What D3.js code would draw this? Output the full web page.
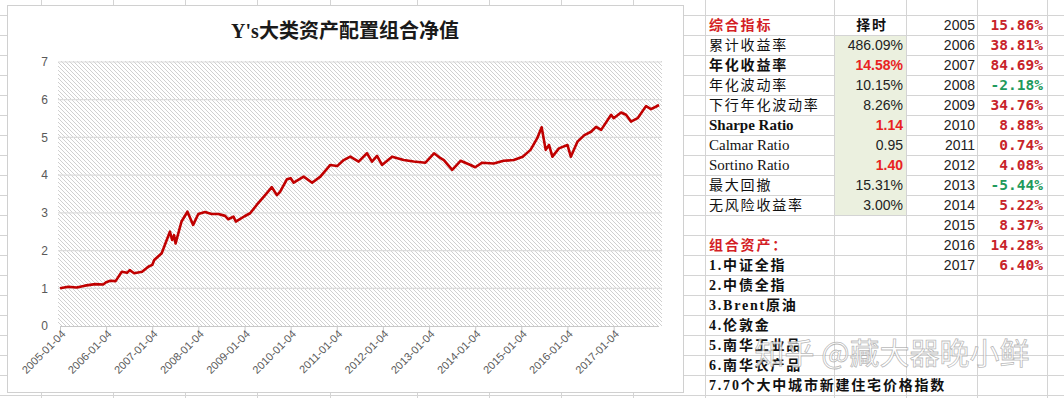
<!DOCTYPE html>
<html>
<head>
<meta charset="utf-8">
<script src="https://cdn.jsdelivr.net/npm/d3@7"></script>
<style>
  body { margin: 0; background: #fff; }
  svg { display: block; }
</style>
</head>
<body>
<div id="chart"></div>
<script>
// Net value series
var navDates = ["2005-01-04","2005-03-10","2005-05-16","2005-07-20","2005-10-10","2005-12-12","2006-01-04","2006-02-06","2006-03-20","2006-05-08","2006-06-19","2006-07-10","2006-08-14","2006-10-16","2006-12-04","2007-01-04","2007-01-20","2007-03-20","2007-04-14","2007-05-24","2007-06-11","2007-06-26","2007-07-08","2007-08-24","2007-10-10","2007-11-24","2008-01-04","2008-02-26","2008-04-18","2008-06-11","2008-08-03","2008-08-28","2008-10-08","2008-10-27","2008-12-01","2009-01-04","2009-02-17","2009-04-10","2009-06-16","2009-08-08","2009-09-17","2009-10-13","2009-12-05","2010-01-04","2010-01-28","2010-04-17","2010-06-23","2010-08-27","2010-11-14","2011-01-07","2011-02-28","2011-04-21","2011-06-26","2011-08-31","2011-10-10","2011-11-19","2011-12-28","2012-03-17","2012-06-17","2012-09-04","2012-12-06","2013-02-12","2013-04-05","2013-05-01","2013-07-06","2013-09-10","2013-11-28","2014-01-04","2014-02-28","2014-05-30","2014-08-17","2014-11-05","2015-01-15","2015-03-18","2015-05-10","2015-06-14","2015-07-16","2015-08-11","2015-09-07","2015-10-29","2016-01-04","2016-01-31","2016-03-24","2016-05-17","2016-07-09","2016-08-18","2016-09-27","2016-12-15","2017-01-04","2017-03-04","2017-04-12","2017-05-21","2017-07-13","2017-09-17","2017-10-27","2017-12-07","2017-12-29"];
var navValues = [1.00,1.04,1.02,1.07,1.11,1.10,1.16,1.20,1.19,1.44,1.41,1.48,1.40,1.44,1.57,1.62,1.75,1.93,2.15,2.50,2.28,2.41,2.19,2.77,3.03,2.68,2.97,3.02,2.97,2.97,2.92,2.83,2.90,2.77,2.84,2.91,2.99,3.21,3.47,3.68,3.47,3.56,3.89,3.92,3.80,3.96,3.80,3.96,4.27,4.24,4.40,4.49,4.36,4.58,4.36,4.51,4.27,4.49,4.40,4.36,4.33,4.58,4.45,4.40,4.14,4.38,4.27,4.21,4.33,4.31,4.38,4.40,4.49,4.67,4.98,5.27,4.67,4.80,4.49,4.71,4.80,4.49,4.89,5.06,5.15,5.28,5.20,5.60,5.51,5.66,5.60,5.42,5.51,5.83,5.75,5.82,5.86];

var xTickLabels = ["2005-01-04","2006-01-04","2007-01-04","2008-01-04","2009-01-04","2010-01-04","2011-01-04","2012-01-04","2013-01-04","2014-01-04","2015-01-04","2016-01-04","2017-01-04"];
var yTicks = [0, 1, 2, 3, 4, 5, 6, 7];

// Table on the right
var indicatorNames = ["累计收益率","年化收益率","年化波动率","下行年化波动率","Sharpe Ratio","Calmar Ratio","Sortino Ratio","最大回撤","无风险收益率"];
var indicatorValues = ["486.09%","14.58%","10.15%","8.26%","1.14","0.95","1.40","15.31%","3.00%"];
var nameBold = [false, true, false, false, true, false, false, false, false];
var valueBold = [false, true, false, false, true, false, true, false, false];
var years = [2005,2006,2007,2008,2009,2010,2011,2012,2013,2014,2015,2016,2017];
var yearReturns = [15.86,38.81,84.69,-2.18,34.76,8.88,0.74,4.08,-5.44,5.22,8.37,14.28,6.40];
var assets = ["1.中证全指","2.中债全指","3.Brent原油","4.伦敦金","5.南华工业品","6.南华农产品","7.70个大中城市新建住宅价格指数"];

var width = 1064, height = 398;
var cjk = "'Noto Sans CJK SC', sans-serif";
var serif = "'Liberation Serif', 'Noto Sans CJK SC', serif";
var sans = "'Liberation Sans', Arial, sans-serif";
var mono = "'DejaVu Sans Mono', monospace";

var svg = d3.select("#chart").append("svg")
    .attr("width", width)
    .attr("height", height);

var defs = svg.append("defs");
var pat = defs.append("pattern")
    .attr("id", "hatch")
    .attr("patternUnits", "userSpaceOnUse")
    .attr("width", 4).attr("height", 4);
pat.append("rect").attr("width", 4).attr("height", 4).attr("fill", "#fff");
pat.append("path")
    .attr("d", "M-1,-1L5,5M-1,3L1,5M3,-1L5,1")
    .attr("stroke", "#d0d0d0")
    .attr("stroke-width", 1);

// Spreadsheet grid
var colLines = [41.5, 113.5, 185.5, 257.5, 330.5, 417.5, 489.5, 561.5, 633.5, 705.5, 834.5, 906.5, 977.5, 1047.5];
var rowLines = d3.range(20).map(function (k) { return 15.5 + 20 * k; });
var grid = svg.append("g");
grid.selectAll(".cl").data(colLines).enter().append("line")
    .attr("x1", d => d).attr("x2", d => d)
    .attr("y1", 0).attr("y2", height)
    .attr("stroke", "#d4d4d4");
grid.selectAll(".rl").data(rowLines).enter().append("line")
    .attr("x1", 0).attr("x2", width)
    .attr("y1", d => d).attr("y2", d => d)
    .attr("stroke", "#d4d4d4");

// green fill for the indicator values
svg.append("rect")
    .attr("x", 835).attr("y", 36)
    .attr("width", 71).attr("height", 179)
    .attr("fill", "#ebf0df");

// Chart box
svg.append("rect")
    .attr("x", 7.5).attr("y", 5.5)
    .attr("width", 676).attr("height", 387)
    .attr("fill", "#fff")
    .attr("stroke", "#d0d0d0");

svg.append("text")
    .attr("x", 345).attr("y", 31)
    .attr("dy", "0.35em")
    .attr("text-anchor", "middle")
    .attr("font-family", serif)
    .attr("font-weight", "bold")
    .attr("font-size", "20px")
    .attr("fill", "#1a1a1a")
    .text("Y's大类资产配置组合净值");

var parseDate = d3.timeParse("%Y-%m-%d");
var data = navDates.map(function (d, i) {
    return { date: parseDate(d), value: navValues[i] };
});

var xScale = d3.scaleTime()
    .domain([parseDate("2005-01-04"), parseDate("2017-12-29")])
    .range([60, 659]);
var yScale = d3.scaleLinear()
    .domain([0, 7])
    .range([326, 62]);

// hatched plot area
svg.append("rect")
    .attr("x", 58).attr("y", 61)
    .attr("width", 604).attr("height", 265)
    .attr("fill", "url(#hatch)");

// horizontal gridlines
svg.append("g").selectAll("line")
    .data(yTicks.slice(1))
    .enter().append("line")
    .attr("x1", 58).attr("x2", 662)
    .attr("y1", d => yScale(d)).attr("y2", d => yScale(d))
    .attr("stroke", "#dcdcdc")
    .attr("stroke-width", 1.2);

var leftAxis = d3.axisLeft(yScale).tickValues(yTicks).tickFormat(d3.format("d")).tickSize(0).tickPadding(10);
var yAxisG = svg.append("g")
    .attr("transform", "translate(58,0)")
    .call(leftAxis);
yAxisG.select(".domain").remove();
yAxisG.selectAll("text")
    .attr("font-family", sans)
    .attr("font-size", "12px")
    .attr("fill", "#595959");

var bottomAxis = d3.axisBottom(xScale)
    .tickValues(xTickLabels.map(parseDate))
    .tickFormat(d3.timeFormat("%Y-%m-%d"))
    .tickSizeInner(5)
    .tickSizeOuter(0);
var xAxisG = svg.append("g")
    .attr("transform", "translate(0,326)")
    .call(bottomAxis);
xAxisG.select(".domain").attr("stroke", "#c8c8c8").attr("d", "M60,0.5H659");
xAxisG.selectAll(".tick line").attr("stroke", "#c8c8c8");
xAxisG.selectAll("text")
    .attr("font-family", sans)
    .attr("font-size", "11px")
    .attr("fill", "#595959")
    .attr("text-anchor", "end")
    .attr("dy", "0.35em")
    .attr("transform", "translate(3,6) rotate(-45)")
    .attr("y", 0).attr("x", 0);

var line = d3.line()
    .x(d => xScale(d.date))
    .y(d => yScale(d.value));

svg.append("path")
    .datum(data)
    .attr("d", line)
    .attr("fill", "none")
    .attr("stroke", "#c00000")
    .attr("stroke-width", 2.6)
    .attr("stroke-linejoin", "round");

// ---- Table ----
var rowY = function (r) { return 25 + 20 * r; };
var table = svg.append("g");

table.append("text")
    .attr("x", 709).attr("y", rowY(0)).attr("dy", "0.36em")
    .attr("font-family", cjk).attr("font-weight", "bold").attr("font-size", "14px")
    .attr("letter-spacing", "1.8px")
    .attr("fill", "#d41f26")
    .text("综合指标");
table.append("text")
    .attr("x", 872).attr("y", rowY(0)).attr("dy", "0.36em")
    .attr("text-anchor", "middle")
    .attr("font-family", cjk).attr("font-weight", "bold").attr("font-size", "14px")
    .attr("letter-spacing", "1.8px")
    .attr("fill", "#111")
    .text("择时");

table.selectAll(".iname").data(indicatorNames).enter().append("text")
    .attr("x", 709).attr("y", (d, i) => rowY(i + 1)).attr("dy", "0.36em")
    .attr("font-family", d => /Ratio/.test(d) ? serif : cjk)
    .attr("font-weight", (d, i) => nameBold[i] ? "bold" : "normal")
    .attr("font-size", d => /Ratio/.test(d) ? "15px" : "14px")
    .attr("letter-spacing", d => /Ratio/.test(d) ? "0px" : "1.8px")
    .attr("fill", "#111")
    .text(d => d);

table.selectAll(".ival").data(indicatorValues).enter().append("text")
    .attr("x", 903).attr("y", (d, i) => rowY(i + 1)).attr("dy", "0.36em")
    .attr("text-anchor", "end")
    .attr("font-family", sans)
    .attr("font-weight", (d, i) => valueBold[i] ? "bold" : "normal")
    .attr("font-size", "14px")
    .attr("fill", (d, i) => valueBold[i] ? "#e8231f" : "#222")
    .text(d => d);

table.selectAll(".yr").data(years).enter().append("text")
    .attr("x", 975).attr("y", (d, i) => rowY(i)).attr("dy", "0.36em")
    .attr("text-anchor", "end")
    .attr("font-family", sans)
    .attr("font-size", "14px")
    .attr("fill", "#222")
    .text(d => d);

table.selectAll(".yret").data(yearReturns).enter().append("text")
    .attr("x", 1043).attr("y", (d, i) => rowY(i)).attr("dy", "0.36em")
    .attr("text-anchor", "end")
    .attr("font-family", mono)
    .attr("font-weight", "bold")
    .attr("font-size", "14.5px")
    .attr("fill", d => d < 0 ? "#1f9a5c" : "#c8242b")
    .text(d => d.toFixed(2) + "%");

table.append("text")
    .attr("x", 709).attr("y", rowY(11)).attr("dy", "0.36em")
    .attr("font-family", cjk).attr("font-weight", "bold").attr("font-size", "14px")
    .attr("letter-spacing", "1.8px")
    .attr("fill", "#d41f26")
    .text("组合资产：");

table.selectAll(".asset").data(assets).enter().append("text")
    .attr("x", 709).attr("y", (d, i) => rowY(i + 12)).attr("dy", "0.36em")
    .attr("font-family", serif).attr("font-weight", "bold").attr("font-size", "14px")
    .attr("letter-spacing", "1.8px")
    .attr("fill", "#111")
    .text(d => d);

// watermark
svg.append("text")
    .attr("x", 892).attr("y", 353).attr("dy", "0.35em")
    .attr("text-anchor", "middle")
    .attr("font-family", cjk)
    .attr("font-size", "30px")
    .attr("fill", "#ffffff")
    .attr("fill-opacity", 0.75)
    .attr("stroke", "#8a8a8a")
    .attr("stroke-opacity", 0.6)
    .attr("stroke-width", 0.8)
    .text("知乎 @藏大器晚小鲜");
</script>
</body>
</html>
